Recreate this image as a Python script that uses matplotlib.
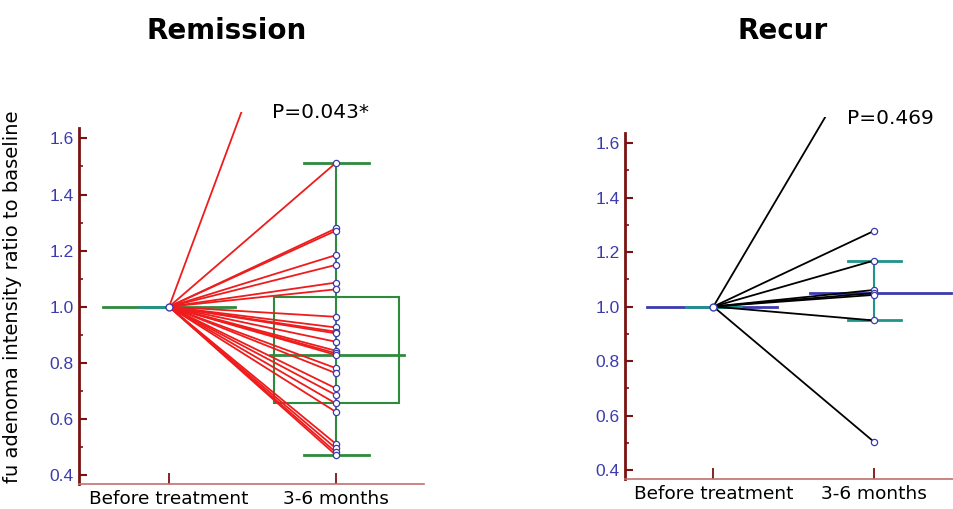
import matplotlib.pyplot as plt
from matplotlib.patches import Rectangle
from matplotlib.ticker import MultipleLocator

categories = ["Before treatment", "3-6 months"]

# ratio to baseline at 3-6 months, one value per patient (baseline = 1.0)
remission_fu = [2.60, 1.513, 1.279, 1.271, 1.184, 1.149, 1.086, 1.062, 0.964,
                0.926, 0.911, 0.905, 0.875, 0.843, 0.834, 0.828, 0.781, 0.763,
                0.709, 0.685, 0.655, 0.625, 0.511, 0.495, 0.481, 0.471]
recur_fu = [2.00, 1.278, 1.169, 1.061, 1.050, 1.043, 0.949, 0.503]

# summary marks
remission_box = {"q1": 0.656, "median": 0.828, "q3": 1.034, "lo": 0.470, "hi": 1.513}
recur_center = 1.049
recur_range = (0.949, 1.169)

p_texts = ["P=0.043*", "P=0.469"]
titles = ["Remission", "Recur"]
yticks = [0.4, 0.6, 0.8, 1.0, 1.2, 1.4, 1.6]

RED = "#ee1c1c"
GREEN = "#2e8b3e"
TEAL = "#1f9488"
BLUE = "#3b3bb0"
MAROON = "#7a1212"

plt.rcParams["font.family"] = ["DejaVu Sans"]

fig = plt.figure(figsize=(9.54, 5.09), dpi=100)
ax1 = fig.add_axes([0.0828, 0.0491, 0.362, 0.7308])
ax2 = fig.add_axes([0.6551, 0.0589, 0.3449, 0.7118])


def style_axes(ax, ylim, spine_top):
    ax.set_ylim(*ylim)
    ax.set_xlim(-0.54, 1.53)
    for s in ("top", "right"):
        ax.spines[s].set_visible(False)
    ax.spines["left"].set_color(MAROON)
    ax.spines["left"].set_linewidth(2)
    ax.spines["left"].set_bounds(ylim[0], spine_top)
    ax.spines["bottom"].set_color("#c07070")
    ax.spines["bottom"].set_linewidth(1.2)
    ax.yaxis.set_minor_locator(MultipleLocator(0.1))
    ax.set_yticks(yticks)
    ax.set_yticklabels([f"{t:.1f}" for t in yticks], family="Liberation Sans",
                       fontsize=12.5, color=BLUE)
    ax.tick_params(axis="y", which="major", direction="in", length=6,
                   width=1.5, color=MAROON, pad=4)
    ax.tick_params(axis="y", which="minor", direction="in", length=3,
                   width=1.2, color=MAROON)
    ax.set_xticks([0, 1])
    ax.set_xticklabels(categories, fontsize=13.3, color="black")
    ax.tick_params(axis="x", direction="in", length=8, width=1.3,
                   color=MAROON, pad=4)


# ---- Remission ----
style_axes(ax1, (0.368, 1.694), 1.637)
ax1.plot([-0.394, 0.394], [1.0, 1.0], color=GREEN, lw=2, zorder=1)
ax1.plot([-0.17, 0.0], [1.0, 1.0], color=TEAL, lw=2, zorder=1)
b = remission_box
ax1.add_patch(Rectangle((0.63, b["q1"]), 0.75, b["q3"] - b["q1"],
                        fill=False, edgecolor=GREEN, lw=1.5, zorder=1))
ax1.plot([0.606, 1.406], [b["median"]] * 2, color=GREEN, lw=2, zorder=1)
ax1.plot([1.0, 1.0], [b["lo"], b["hi"]], color=GREEN, lw=1.5, zorder=1)
ax1.plot([0.81, 1.2], [b["lo"]] * 2, color=GREEN, lw=2, zorder=1)
ax1.plot([0.81, 1.2], [b["hi"]] * 2, color=GREEN, lw=2, zorder=1)
for v in remission_fu:
    ax1.plot([0, 1], [1.0, v], color=RED, lw=1.3, zorder=2)
ax1.plot([1] * len(remission_fu), remission_fu, "o", ms=4.5, mfc="white",
         mec=BLUE, mew=0.9, zorder=3)
ax1.plot([0], [1.0], "o", ms=5, mfc="white", mec=BLUE, mew=1, zorder=3)
ax1.set_ylabel("fu adenoma intensity ratio to baseline", fontsize=14)
ax1.yaxis.set_label_coords(-0.165, 0.504)

# ---- Recur ----
style_axes(ax2, (0.367, 1.697), 1.639)
ax2.set_xlim(-0.55, 1.497)
ax2.plot([-0.41, 0.396], [1.0, 1.0], color=BLUE, lw=2, zorder=1)
ax2.plot([-0.17, 0.17], [1.0, 1.0], color=TEAL, lw=2, zorder=1)
ax2.plot([0.60, 1.48], [recur_center] * 2, color=BLUE, lw=2, zorder=1)
ax2.plot([1.0, 1.0], list(recur_range), color=TEAL, lw=1.5, zorder=1)
ax2.plot([0.836, 1.17], [recur_range[0]] * 2, color=TEAL, lw=2, zorder=1)
ax2.plot([0.836, 1.17], [recur_range[1]] * 2, color=TEAL, lw=2, zorder=1)
for v in recur_fu:
    ax2.plot([0, 1], [1.0, v], color="black", lw=1.3, zorder=2)
ax2.plot([1] * len(recur_fu), recur_fu, "o", ms=4.5, mfc="white",
         mec=BLUE, mew=0.9, zorder=3)
ax2.plot([0], [1.0], "o", ms=5, mfc="white", mec=BLUE, mew=1, zorder=3)

fig.text(227 / 954, 1 - 31 / 509, titles[0], fontsize=20, fontweight="bold",
         ha="center", va="center")
fig.text(783 / 954, 1 - 31 / 509, titles[1], fontsize=20, fontweight="bold",
         ha="center", va="center")
fig.text(272 / 954, 1 - 113 / 509, p_texts[0], fontsize=14.5, ha="left",
         va="center")
fig.text(847 / 954, 1 - 118 / 509, p_texts[1], fontsize=14.5, ha="left",
         va="center")

fig.savefig("out.png", dpi=100)
